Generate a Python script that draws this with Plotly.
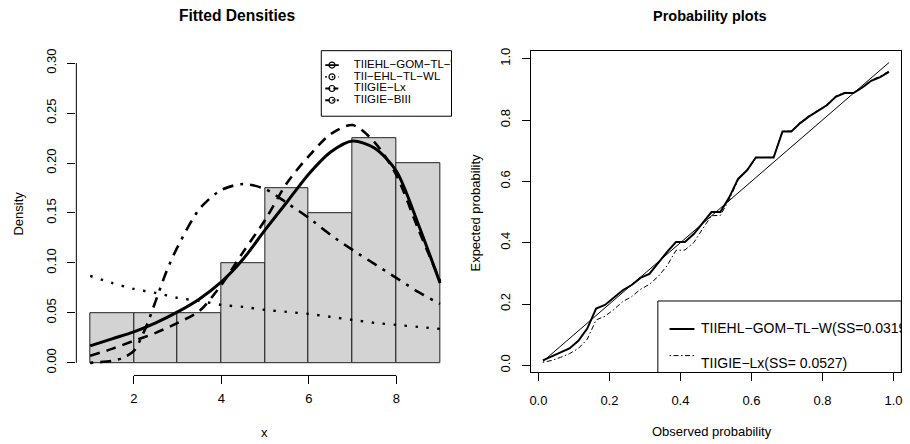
import plotly.graph_objects as go

# ---------------- data ----------------
# histogram of the sample (unit-width bins, density scale)
bin_edges = [1, 2, 3, 4, 5, 6, 7, 8, 9]
bin_density = [0.05, 0.05, 0.05, 0.10, 0.175, 0.15, 0.225, 0.20]

# fitted densities on a grid of x values
grid_x = [1.0, 1.5, 2.0, 2.5, 3.0, 3.5, 4.0, 4.5, 5.0, 5.5, 6.0, 6.5, 7.0, 7.5, 8.0, 8.5, 9.0]
dens_tiiehl_gom = [0.017, 0.024, 0.031, 0.040, 0.051, 0.064, 0.081, 0.104, 0.133, 0.161,
                   0.189, 0.211, 0.222, 0.215, 0.192, 0.139, 0.080]
dens_tii_ehl = [0.087, 0.080, 0.074, 0.070, 0.065, 0.062, 0.058, 0.056, 0.053, 0.051,
                0.049, 0.046, 0.043, 0.040, 0.038, 0.036, 0.034]
dens_tiigie_lx = [0.007, 0.014, 0.022, 0.030, 0.040, 0.052, 0.078, 0.111, 0.143, 0.180,
                  0.207, 0.229, 0.238, 0.221, 0.188, 0.134, 0.082]
grid_x_biii = [1.0, 1.5, 1.75, 2.0, 2.25, 2.5, 2.75, 3.0, 3.5, 4.0, 4.5, 5.0, 5.5, 6.0,
               6.5, 7.0, 7.5, 8.0, 8.5, 9.0]
dens_tiigie_biii = [0.000, 0.002, 0.005, 0.012, 0.033, 0.062, 0.092, 0.116, 0.154, 0.173,
                    0.179, 0.174, 0.160, 0.145, 0.128, 0.113, 0.099, 0.085, 0.071, 0.059]

density_names = ["TIIEHL\u2212GOM\u2212TL\u2212W", "TII\u2212EHL\u2212TL\u2212WL",
                 "TIIGIE\u2212Lx", "TIIGIE\u2212BIII"]

# probability plot: observed vs expected probabilities
obs_prob = [0.0125, 0.0375, 0.0625, 0.0875, 0.1125, 0.1375, 0.1625, 0.1875, 0.2125, 0.2375,
            0.2625, 0.2875, 0.3125, 0.3375, 0.3625, 0.3875, 0.4125, 0.4375, 0.4625, 0.4875,
            0.5125, 0.5375, 0.5625, 0.5875, 0.6125, 0.6375, 0.6625, 0.6875, 0.7125, 0.7375,
            0.7625, 0.7875, 0.8125, 0.8375, 0.8625, 0.8875, 0.9125, 0.9375, 0.9625, 0.9875]
exp_tiiehl_gom = [0.016, 0.028, 0.042, 0.055, 0.080, 0.120, 0.185, 0.197, 0.220, 0.245,
                  0.262, 0.285, 0.298, 0.335, 0.370, 0.402, 0.402, 0.428, 0.463, 0.500,
                  0.500, 0.548, 0.608, 0.636, 0.678, 0.678, 0.678, 0.763, 0.763, 0.790,
                  0.812, 0.830, 0.848, 0.876, 0.888, 0.888, 0.906, 0.928, 0.940, 0.957]
exp_tiigie_lx = [0.010, 0.016, 0.026, 0.038, 0.055, 0.085, 0.148, 0.160, 0.182, 0.208,
                 0.224, 0.248, 0.264, 0.290, 0.325, 0.375, 0.376, 0.400, 0.445, 0.488,
                 0.489, 0.540, 0.605, 0.634, 0.677, 0.679, 0.679, 0.764, 0.764, 0.792,
                 0.814, 0.832, 0.850, 0.878, 0.890, 0.890, 0.908, 0.930, 0.943, 0.960]
pp_names = ["TIIEHL\u2212GOM\u2212TL\u2212W(SS=0.0319)", "TIIGIE\u2212Lx(SS= 0.0527)"]

left_xticks = [2, 4, 6, 8]
left_yticks = [0.00, 0.05, 0.10, 0.15, 0.20, 0.25, 0.30]
right_ticks = [0.0, 0.2, 0.4, 0.6, 0.8, 1.0]

# ---------------- geometry (pixels) ----------------
W, H = 910, 444
FONT = "Liberation Sans, Arial, Helvetica, sans-serif"

L_X0, L_X1 = 75.5, 452.0
L_Y0, L_Y1 = 47.5, 375.0          # top, bottom
R_X0, R_X1 = 530.7, 902.3
R_Y0, R_Y1 = 48.5, 372.0

# data <-> pixel scales
LX_ORG, LX_PPU = 89.3, 43.84       # x=1 position, px per unit
LY_ORG, LY_PPU = 362.3, 1006.0     # y=0 position, px per unit
RX_ORG, RX_PPU = 538.6, 355.8
RY_ORG, RY_PPU = 364.8, 308.7


def lx(px):
    return 1 + (px - LX_ORG) / LX_PPU


def ly(py):
    return (LY_ORG - py) / LY_PPU


def rx(px):
    return (px - RX_ORG) / RX_PPU


def ry(py):
    return (RY_ORG - py) / RY_PPU


def pxp(px):
    return px / W


def pyp(py):
    return 1 - py / H


fig = go.Figure()

# ---------------- left panel: histogram + densities ----------------
centers = [(a + b) / 2 for a, b in zip(bin_edges[:-1], bin_edges[1:])]
widths = [b - a for a, b in zip(bin_edges[:-1], bin_edges[1:])]
fig.add_trace(go.Bar(x=centers, y=bin_density, width=widths,
                     marker=dict(color="#D3D3D3", line=dict(color="#222222", width=1)),
                     xaxis="x", yaxis="y", hoverinfo="skip"))

styles = [
    dict(width=3, dash="solid"),
    dict(width=2.4, dash="2.5px,8.5px"),
    dict(width=2.6, dash="10px,7px"),
    dict(width=2.6, dash="3px,7px,11px,7px"),
]
curves = [(grid_x, dens_tiiehl_gom), (grid_x, dens_tii_ehl),
          (grid_x, dens_tiigie_lx), (grid_x_biii, dens_tiigie_biii)]
for (xs, ys), st in zip(curves, styles):
    fig.add_trace(go.Scatter(x=xs, y=ys, mode="lines", xaxis="x", yaxis="y",
                             line=dict(color="black", width=st["width"], dash=st["dash"],
                                       shape="spline", smoothing=0.8),
                             hoverinfo="skip"))

# legend box (top right of the plot region)
shapes = []
shapes.append(dict(type="rect", xref="paper", yref="paper",
                   x0=pxp(321), x1=pxp(L_X1 - 0.5), y0=pyp(114), y1=pyp(L_Y0 + 0.5),
                   line=dict(color="black", width=1), fillcolor="white", layer="below"))
leg_rows = [62.5, 74.3, 86.1, 97.9]
leg_dash = ["solid", "1.5px,5px", "5px,3px", "4px,3px,1.5px,3px"]
for name, d, row in zip(density_names, leg_dash, leg_rows):
    fig.add_trace(go.Scatter(x=[lx(325), lx(338.5)], y=[ly(row), ly(row)], mode="lines",
                             xaxis="x", yaxis="y",
                             line=dict(color="black", width=1.8, dash=d),
                             hoverinfo="skip"))
    fig.add_trace(go.Scatter(x=[lx(331.7)], y=[ly(row)], mode="markers", xaxis="x", yaxis="y",
                             marker=dict(symbol="circle-open", size=6, color="black",
                                         line=dict(width=1.2, color="black")),
                             hoverinfo="skip"))
    fig.add_trace(go.Scatter(x=[lx(353.5)], y=[ly(row)], mode="text", text=[name],
                             textposition="middle right", cliponaxis=True,
                             textfont=dict(family=FONT, size=11.5, color="black"),
                             xaxis="x", yaxis="y", hoverinfo="skip"))

# axis lines spanning only the tick range
shapes.append(dict(type="line", xref="paper", yref="paper",
                   x0=pxp(L_X0), x1=pxp(L_X0),
                   y0=pyp(LY_ORG - left_yticks[0] * LY_PPU),
                   y1=pyp(LY_ORG - left_yticks[-1] * LY_PPU),
                   line=dict(color="black", width=1)))
shapes.append(dict(type="line", xref="paper", yref="paper",
                   x0=pxp(LX_ORG + (left_xticks[0] - 1) * LX_PPU),
                   x1=pxp(LX_ORG + (left_xticks[-1] - 1) * LX_PPU),
                   y0=pyp(L_Y1), y1=pyp(L_Y1),
                   line=dict(color="black", width=1)))

# ---------------- right panel: probability plot ----------------
fig.add_trace(go.Scatter(x=[obs_prob[0], obs_prob[-1]], y=[obs_prob[0], obs_prob[-1]],
                         mode="lines", xaxis="x2", yaxis="y2",
                         line=dict(color="black", width=1), hoverinfo="skip"))
fig.add_trace(go.Scatter(x=obs_prob, y=exp_tiigie_lx, mode="lines", xaxis="x2", yaxis="y2",
                         line=dict(color="black", width=1, dash="1.5px,2.5px,5px,2.5px"),
                         hoverinfo="skip"))
fig.add_trace(go.Scatter(x=obs_prob, y=exp_tiiehl_gom, mode="lines", xaxis="x2", yaxis="y2",
                         line=dict(color="black", width=2), hoverinfo="skip"))

shapes.append(dict(type="rect", xref="paper", yref="paper",
                   x0=pxp(658.3), x1=pxp(R_X1), y0=pyp(R_Y1), y1=pyp(300),
                   line=dict(color="black", width=1), fillcolor="white", layer="below"))
pp_rows_line = [328.3, 355.0]
pp_rows_text = [328.3, 364.0]
pp_dash = ["solid", "1.5px,2.5px,5px,2.5px"]
pp_width = [2, 1]
for name, yl, yt, d, w in zip(pp_names, pp_rows_line, pp_rows_text, pp_dash, pp_width):
    fig.add_trace(go.Scatter(x=[rx(670), rx(695)], y=[ry(yl), ry(yl)], mode="lines",
                             xaxis="x2", yaxis="y2", line=dict(color="black", width=w, dash=d),
                             hoverinfo="skip"))
    fig.add_trace(go.Scatter(x=[rx(701.5)], y=[ry(yt)], mode="text", text=[name],
                             textposition="middle right", cliponaxis=True,
                             textfont=dict(family=FONT, size=14, color="black"),
                             xaxis="x2", yaxis="y2", hoverinfo="skip"))

# ---------------- titles and axis labels ----------------
ann = []


def label(text, x, y, size=13, angle=0, bold=False):
    ann.append(dict(text=f"<b>{text}</b>" if bold else text, x=pxp(x), y=pyp(y),
                    xref="paper", yref="paper", showarrow=False, textangle=angle,
                    xanchor="center", yanchor="middle",
                    font=dict(family=FONT, size=size, color="black")))


label("Fitted Densities", 237, 13, size=15.6, bold=True)
label("Probability plots", 711, 13, size=14.5, bold=True)
label("Density", 18, 212, angle=-90)
label("x", 264, 432)
label("Expected probability", 476, 211, angle=-90)
label("Observed probability", 713, 431)

tickfont = dict(family=FONT, size=13, color="black")
common = dict(showgrid=False, zeroline=False, ticks="outside", ticklen=8, tickwidth=1,
              tickcolor="black", tickfont=tickfont, fixedrange=True)

fig.update_layout(
    width=W, height=H, autosize=False,
    margin=dict(l=0, r=0, t=0, b=0, pad=0),
    paper_bgcolor="white", plot_bgcolor="white",
    showlegend=False, bargap=0,
    xaxis=dict(domain=[pxp(L_X0), pxp(L_X1)], range=[lx(L_X0), lx(L_X1)], anchor="y",
               tickvals=left_xticks, ticktext=[str(t) for t in left_xticks],
               showline=False, ticklabelstandoff=3, **common),
    yaxis=dict(domain=[pyp(L_Y1), pyp(L_Y0)], range=[ly(L_Y1), ly(L_Y0)], anchor="x",
               tickvals=left_yticks, ticktext=[f"{t:.2f}" for t in left_yticks],
               tickangle=-90, showline=False, ticklabelstandoff=6, **common),
    xaxis2=dict(domain=[pxp(R_X0), pxp(R_X1)], range=[rx(R_X0), rx(R_X1)], anchor="y2",
                tickvals=right_ticks, ticktext=[f"{t:.1f}" for t in right_ticks],
                showline=True, mirror=True, linecolor="black", linewidth=1,
                ticklabelstandoff=8, **common),
    yaxis2=dict(domain=[pyp(R_Y1), pyp(R_Y0)], range=[ry(R_Y1), ry(R_Y0)], anchor="x2",
                tickvals=right_ticks, ticktext=[f"{t:.1f}" for t in right_ticks],
                tickangle=-90, showline=True, mirror=True, linecolor="black", linewidth=1,
                ticklabelstandoff=6, **common),
    shapes=shapes, annotations=ann,
)

fig.write_html("out.html")
